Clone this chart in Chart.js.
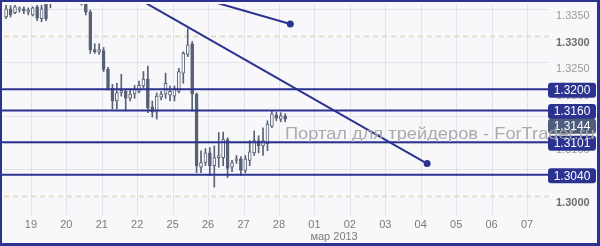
<!DOCTYPE html>
<html>
<head>
<meta charset="utf-8">
<script src="https://cdn.jsdelivr.net/npm/chart.js@4.4.1/dist/chart.umd.min.js"></script>
<style>
  html, body { margin: 0; padding: 0; background: #f8f8fa; }
  canvas { display: block; }
</style>
</head>
<body>
<canvas id="chart" width="600" height="246"></canvas>
<script>
    // EURUSD, 3-hour candles. x is measured in trading days from the 19th
    const dayLabels = ['19', '20', '21', '22', '25', '26', '27', '28', '01', '02', '03', '04', '05', '06', '07'];
    const monthLabel = 'мар 2013';
    const firstBar = -0.70;
    const barStep = 0.125;

    const opens = [1.3335, 1.3350, 1.3343, 1.3349, 1.3350, 1.3344, 1.3339, 1.3354, 1.3332, 1.3363,
      1.3369, 1.3385, 1.3392, 1.3384, 1.3390, 1.3381, 1.3376, 1.3391, 1.3359, 1.3344,
      1.3274, 1.3269, 1.3272, 1.3237, 1.3202, 1.3178, 1.3194, 1.3196, 1.3183, 1.3191,
      1.3196, 1.3206, 1.3219, 1.3167, 1.3157, 1.3185, 1.3191, 1.3189, 1.3187, 1.3196,
      1.3230, 1.3265, 1.3285, 1.3191, 1.3054, 1.3063, 1.3081, 1.3057, 1.3072, 1.3072,
      1.3106, 1.3054, 1.3067, 1.3070, 1.3048, 1.3067, 1.3081, 1.3104, 1.3094, 1.3098,
      1.3131, 1.3152, 1.3144, 1.3150];
    const highs = [1.3357, 1.3356, 1.3357, 1.3354, 1.3354, 1.3352, 1.3354, 1.3357, 1.3357, 1.3370,
      1.3391, 1.3398, 1.3400, 1.3394, 1.3396, 1.3388, 1.3386, 1.3400, 1.3372, 1.3348,
      1.3285, 1.3285, 1.3278, 1.3241, 1.3209, 1.3211, 1.3228, 1.3200, 1.3200, 1.3207,
      1.3215, 1.3233, 1.3243, 1.3178, 1.3193, 1.3196, 1.3230, 1.3206, 1.3206, 1.3239,
      1.3270, 1.3313, 1.3289, 1.3193, 1.3085, 1.3089, 1.3091, 1.3094, 1.3119, 1.3120,
      1.3109, 1.3067, 1.3076, 1.3074, 1.3076, 1.3104, 1.3122, 1.3113, 1.3128, 1.3141,
      1.3159, 1.3157, 1.3156, 1.3154];
    const lows = [1.3332, 1.3335, 1.3341, 1.3344, 1.3341, 1.3339, 1.3337, 1.3328, 1.3326, 1.3328,
      1.3352, 1.3378, 1.3380, 1.3375, 1.3378, 1.3370, 1.3368, 1.3357, 1.3339, 1.3267,
      1.3267, 1.3265, 1.3233, 1.3198, 1.3163, 1.3163, 1.3187, 1.3159, 1.3178, 1.3183,
      1.3193, 1.3202, 1.3156, 1.3148, 1.3144, 1.3180, 1.3183, 1.3178, 1.3178, 1.3193,
      1.3211, 1.3261, 1.3159, 1.3044, 1.3044, 1.3057, 1.3039, 1.3017, 1.3054, 1.3057,
      1.3035, 1.3046, 1.3061, 1.3039, 1.3044, 1.3057, 1.3076, 1.3081, 1.3076, 1.3085,
      1.3128, 1.3141, 1.3139, 1.3139];
    const closes = [1.3350, 1.3339, 1.3354, 1.3350, 1.3347, 1.3348, 1.3352, 1.3333, 1.3350, 1.3332,
      1.3385, 1.3392, 1.3384, 1.3390, 1.3381, 1.3376, 1.3380, 1.3378, 1.3344, 1.3274,
      1.3270, 1.3274, 1.3237, 1.3202, 1.3178, 1.3193, 1.3198, 1.3183, 1.3191, 1.3200,
      1.3207, 1.3219, 1.3165, 1.3157, 1.3187, 1.3191, 1.3211, 1.3196, 1.3202, 1.3233,
      1.3267, 1.3283, 1.3191, 1.3057, 1.3063, 1.3081, 1.3057, 1.3072, 1.3076, 1.3106,
      1.3052, 1.3063, 1.3070, 1.3048, 1.3070, 1.3083, 1.3104, 1.3094, 1.3104, 1.3135,
      1.3154, 1.3146, 1.3150, 1.3144];

    const levels = [1.3200, 1.3160, 1.3101, 1.3040];
    const lastPrice = 1.3144;
    const yTicks = [1.3000, 1.3050, 1.3100, 1.3150, 1.3200, 1.3250, 1.3300, 1.3350];
    const majorTicks = [1.3000, 1.3300];

    // trend lines: [start, end] in (day, price)
    const trendA = [{ x: 2.0, y: 1.3408 }, { x: 11.18, y: 1.3061 }];
    const trendB = [{ x: 3.0, y: 1.3404 }, { x: 7.32, y: 1.3322 }];

    const NAVY = '#2b3290';
    const CANDLE = '#586176';
    const BG = '#f8f8fa';
    const FONT = 'Arial, "Liberation Sans", sans-serif';

    const barX = i => firstBar + i * barStep;
    const isUp = i => closes[i] >= opens[i];
    const isMajor = c => !!(c && c.tick && majorTicks.some(m => Math.abs(m - c.tick.value) < 1e-6));

    const overlay = {
      id: 'overlay',
      beforeDraw(chart) {
        const ctx = chart.ctx;
        ctx.save();
        ctx.fillStyle = BG;
        ctx.fillRect(0, 0, chart.width, chart.height);
        ctx.restore();
      },
      beforeDatasetsDraw(chart) {
        const { ctx, chartArea: a, scales: { x, y } } = chart;
        ctx.save();
        ctx.lineWidth = 1;
        ctx.strokeStyle = 'rgba(190,190,205,0.35)';
        dayLabels.forEach((_, k) => {
          const px = Math.round(x.getPixelForValue(k)) + 0.5;
          ctx.beginPath(); ctx.moveTo(px, a.top); ctx.lineTo(px, a.bottom); ctx.stroke();
        });
        yTicks.forEach(v => {
          const py = Math.round(y.getPixelForValue(v)) + 0.5;
          if (majorTicks.includes(v)) {
            ctx.strokeStyle = '#e3ddcc';
            ctx.lineWidth = 2;
            ctx.setLineDash([5, 4]);
          } else {
            ctx.strokeStyle = 'rgba(190,190,205,0.35)';
            ctx.lineWidth = 1;
            ctx.setLineDash([]);
          }
          ctx.beginPath(); ctx.moveTo(a.left, py); ctx.lineTo(a.right, py); ctx.stroke();
        });
        ctx.restore();
      },
      afterDatasetsDraw(chart) {
        const { ctx, chartArea: a, scales: { y } } = chart;
        ctx.save();
        ctx.strokeStyle = NAVY;
        ctx.lineWidth = 2;
        levels.forEach(v => {
          const py = y.getPixelForValue(v);
          ctx.beginPath(); ctx.moveTo(0, py); ctx.lineTo(a.right, py); ctx.stroke();
        });
        ctx.restore();
      },
      afterDraw(chart) {
        const { ctx, chartArea: a, scales: { x, y } } = chart;
        ctx.save();

        const box = (py, fill, text) => {
          ctx.fillStyle = fill;
          ctx.beginPath();
          ctx.roundRect(a.right - 1, py - 7.5, 48, 15, 3);
          ctx.fill();
          ctx.fillStyle = '#ffffff';
          ctx.font = '12px ' + FONT;
          ctx.textAlign = 'center';
          ctx.textBaseline = 'middle';
          ctx.fillText(text, a.right + 23, py + 0.5);
        };
        levels.forEach(v => box(y.getPixelForValue(v) + 1, NAVY, v.toFixed(4)));
        box(y.getPixelForValue(lastPrice) + 7, '#4f5d7d', lastPrice.toFixed(4));

        // month caption under the x labels
        ctx.fillStyle = '#7a7a7a';
        ctx.font = '11px ' + FONT;
        ctx.textAlign = 'left';
        ctx.textBaseline = 'middle';
        ctx.fillText(monthLabel, x.getPixelForValue(8) - 4, 237);

        // watermark, drawn over the price boxes
        const wm = 'Портал для трейдеров - ForTrader.ru';
        ctx.font = '17px ' + FONT;
        ctx.textAlign = 'left';
        const w = ctx.measureText(wm).width;
        ctx.translate(285, 134);
        ctx.scale(310 / w, 1);
        ctx.fillStyle = 'rgba(166,166,170,0.95)';
        ctx.textBaseline = 'middle';
        ctx.fillText(wm, 0, 0);
        ctx.setTransform(1, 0, 0, 1, 0, 0);

        // frame
        ctx.fillStyle = NAVY;
        ctx.fillRect(0, 0, chart.width, 2);
        ctx.fillRect(0, 0, 2, chart.height);
        ctx.fillRect(chart.width - 3, 0, 3, chart.height);
        ctx.fillRect(0, chart.height - 3, chart.width, 3);
        ctx.restore();
      }
    };

    new Chart(document.getElementById('chart'), {
      type: 'bar',
      data: {
        datasets: [
          {
            type: 'line',
            data: trendA,
            borderColor: NAVY,
            backgroundColor: NAVY,
            borderWidth: 2,
            pointRadius: [0, 3.5],
            pointBorderWidth: 0,
            clip: 0,
            order: 0
          },
          {
            type: 'line',
            data: trendB,
            borderColor: NAVY,
            backgroundColor: NAVY,
            borderWidth: 2,
            pointRadius: [0, 3.5],
            pointBorderWidth: 0,
            clip: 0,
            order: 0
          },
          {
            // bodies
            data: opens.map((o, i) => ({ x: barX(i), y: [o, closes[i]] })),
            backgroundColor: ctx => isUp(ctx.dataIndex) ? '#fbfbfd' : CANDLE,
            borderColor: CANDLE,
            borderWidth: 1,
            borderSkipped: false,
            barThickness: 3,
            minBarLength: 1,
            grouped: false,
            clip: 0,
            order: 1
          },
          {
            // wicks
            data: highs.map((h, i) => ({ x: barX(i), y: [lows[i], h] })),
            backgroundColor: CANDLE,
            borderWidth: 0,
            barThickness: 1,
            grouped: false,
            clip: 0,
            order: 2
          }
        ]
      },
      options: {
        responsive: false,
        animation: false,
        layout: { padding: { left: 3, top: 2, right: 0, bottom: 0 } },
        plugins: { legend: { display: false }, tooltip: { enabled: false } },
        scales: {
          x: {
            type: 'linear',
            offset: false,
            min: -0.76,
            max: 14.62,
            afterBuildTicks: s => { s.ticks = dayLabels.map((_, k) => ({ value: k })); },
            afterFit: s => { s.height = 31; s.paddingLeft = 0; s.paddingRight = 0; },
            grid: { display: false, drawTicks: false },
            border: { display: false },
            ticks: {
              autoSkip: false,
              maxRotation: 0,
              padding: 3,
              color: '#7a7a7a',
              font: { family: FONT, size: 11 },
              callback: v => dayLabels[v]
            }
          },
          y: {
            position: 'right',
            min: 1.296481,
            max: 1.335926,
            afterBuildTicks: s => { s.ticks = yTicks.map(v => ({ value: v })); },
            afterFit: s => { s.width = 51; s.paddingTop = 0; s.paddingBottom = 0; },
            grid: { display: false, drawTicks: false },
            border: { display: false },
            ticks: {
              padding: 7,
              labelOffset: 7,
              color: c => isMajor(c) ? '#6e6e6e' : '#9a9a9a',
              font: c => ({ family: FONT, size: 11, weight: isMajor(c) ? 'bold' : 'normal' }),
              callback: v => Number(v).toFixed(4)
            }
          }
        }
      },
      plugins: [overlay]
    });
</script>
</body>
</html>
